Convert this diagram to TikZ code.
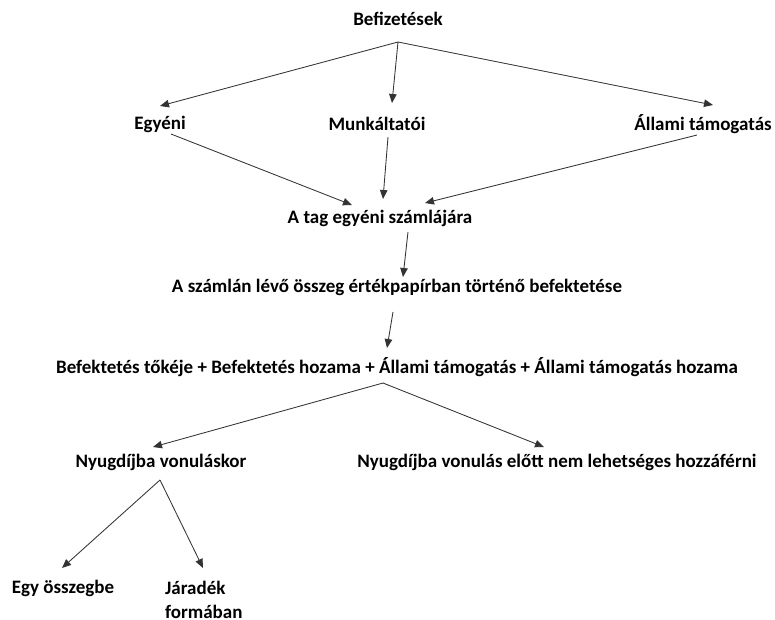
\documentclass[tikz,border=0pt]{standalone}
\usepackage{fontspec}
\setmainfont{Carlito}
\usetikzlibrary{arrows.meta}
\begin{document}
\begin{tikzpicture}[x=1pt,y=-1pt,
  lbl/.style={font=\bfseries\fontsize{19}{24}\selectfont, inner sep=0pt, text=black},
  flow/.style={draw=black!80, line width=0.85pt, -{Triangle[length=9pt,width=7.5pt]}}]
\useasboundingbox (0,0) rectangle (775,619);
% labels
\node[lbl] (bef)   at (398,19)  {Befizetések};
\node[lbl] (egy)   at (160,124) {Egyéni};
\node[lbl] (munk)  at (377,124) {Munkáltatói};
\node[lbl] (all)   at (703,124) {Állami támogatás};
\node[lbl] (tag)   at (380,218) {A tag egyéni számlájára};
\node[lbl] (szam)  at (397,287) {A számlán lévő összeg értékpapírban történő befektetése};
\node[lbl] (osz)   at (397,367) {Befektetés tőkéje + Befektetés hozama + Állami támogatás + Állami támogatás hozama};
\node[lbl] (nyv)   at (161,462) {Nyugdíjba vonuláskor};
\node[lbl] (nye)   at (557,462) {Nyugdíjba vonulás előtt nem lehetséges hozzáférni};
\node[lbl] (egyo)  at (63,588)  {Egy összegbe};
\node[lbl, align=left, anchor=north west] (jar) at (165,581) {Járadék\\formában};
% connector end points
\coordinate (befo) at (398,42);
\coordinate (egyi) at (160,106);
\coordinate (munki) at (392,103);
\coordinate (alli) at (713,105);
\coordinate (egyo2) at (171,134);
\coordinate (munko) at (388,137);
\coordinate (allo) at (697,135);
\coordinate (tagi1) at (352,205);
\coordinate (tagi2) at (383,199);
\coordinate (tagi3) at (425,203);
\coordinate (tago) at (408,232);
\coordinate (szami) at (403,277);
\coordinate (szamo) at (393,312);
\coordinate (oszi) at (387,348);
\coordinate (oszo) at (383,383);
\coordinate (nyvi) at (153,447);
\coordinate (nyei) at (544,447);
\coordinate (nyvo) at (160,480);
\coordinate (egyoi) at (62,568);
\coordinate (jari) at (203,568);
% connectors
\draw[flow] (befo) -- (egyi);
\draw[flow] (befo) -- (munki);
\draw[flow] (befo) -- (alli);
\draw[flow] (egyo2) -- (tagi1);
\draw[flow] (munko) -- (tagi2);
\draw[flow] (allo) -- (tagi3);
\draw[flow] (tago) -- (szami);
\draw[flow] (szamo) -- (oszi);
\draw[flow] (oszo) -- (nyvi);
\draw[flow] (oszo) -- (nyei);
\draw[flow] (nyvo) -- (egyoi);
\draw[flow] (nyvo) -- (jari);
\end{tikzpicture}
\end{document}
